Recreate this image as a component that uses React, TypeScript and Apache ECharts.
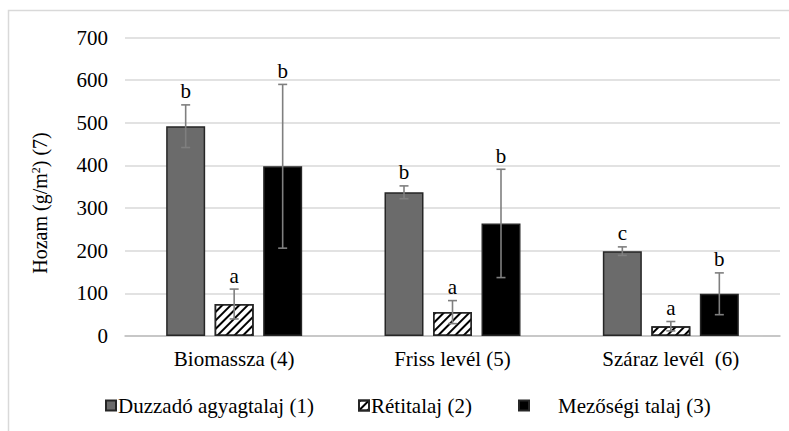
import React, { useEffect, useRef } from "react";
import * as echarts from "echarts";

const categories = ["Biomassza (4)", "Friss levél (5)", "Száraz levél  (6)"];
const seriesNames = ["Duzzadó agyagtalaj (1)", "Rétitalaj (2)", "Mezőségi talaj (3)"];
const duzzado = [492, 337, 199];
const duzzadoErr = [50, 15, 10];
const reti = [75, 56, 23];
const retiErr = [35, 27, 11];
const mezosegi = [398, 264, 99];
const mezosegiErr = [192, 127, 49];
const duzzadoLetters = ["b", "b", "c"];
const retiLetters = ["a", "a", "a"];
const mezosegiLetters = ["b", "b", "b"];
const yTicks = [0, 100, 200, 300, 400, 500, 600, 700];

const FONT = "Liberation Serif";
const BAR_W = 39;
const GAP = 9.5;

function errSeries(name: string, vals: number[], errs: number[], letters: string[], offset: number) {
  return {
    type: "custom",
    name: name + "_err",
    z: 5,
    data: vals.map((v, i) => [i, v, errs[i]]),
    encode: { x: 0, y: 1 },
    renderItem: (params: any, api: any) => {
      const i = api.value(0);
      const v = api.value(1);
      const e = api.value(2);
      const top = api.coord([i, v + e]);
      const bot = api.coord([i, Math.max(0, v - e)]);
      const x = top[0] + offset;
      const cap = 4.5;
      const st = { stroke: "#7f7f7f", lineWidth: 1.6 };
      return {
        type: "group",
        children: [
          { type: "line", shape: { x1: x, y1: top[1], x2: x, y2: bot[1] }, style: st },
          { type: "line", shape: { x1: x - cap, y1: top[1], x2: x + cap, y2: top[1] }, style: st },
          { type: "line", shape: { x1: x - cap, y1: bot[1], x2: x + cap, y2: bot[1] }, style: st },
          {
            type: "text",
            x: x,
            y: top[1] - 3,
            style: {
              text: letters[params.dataIndex],
              fontSize: 21,
              fontFamily: FONT,
              fill: "#000",
              align: "center",
              verticalAlign: "bottom",
            },
          },
        ],
      };
    },
  };
}

export default function App() {
  const ref = useRef<HTMLDivElement>(null);
  useEffect(() => {
    if (!ref.current) return;
    const chart = echarts.init(ref.current, null, { renderer: "svg" });
    const barBorder = { borderColor: "#262626", borderWidth: 1.5 };
    const legendText = (pad: number) => ({
      fontSize: 21,
      fontFamily: FONT,
      color: "#000",
      padding: [0, 0, 0, pad],
    });
    chart.setOption({
      animation: false,
      backgroundColor: "#fff",
      textStyle: { fontFamily: FONT },
      grid: { left: 125, right: 9, top: 37.5, bottom: 95, containLabel: false },
      legend: [
        {
          data: [seriesNames[0]],
          left: 100,
          top: 390,
          icon: "rect",
          itemWidth: 10,
          itemHeight: 10,
          textStyle: legendText(-3),
        },
        {
          data: [seriesNames[1]],
          left: 353,
          top: 390,
          icon: "rect",
          itemWidth: 10,
          itemHeight: 10,
          textStyle: legendText(-3),
        },
        {
          data: [seriesNames[2]],
          left: 513,
          top: 390,
          icon: "rect",
          itemWidth: 10,
          itemHeight: 10,
          textStyle: legendText(24),
        },
      ],
      xAxis: {
        type: "category",
        data: categories,
        axisTick: { show: false },
        axisLine: { lineStyle: { color: "#bfbfbf", width: 1.5 } },
        axisLabel: { fontSize: 21, fontFamily: FONT, color: "#000", margin: 12 },
      },
      yAxis: {
        type: "value",
        min: yTicks[0],
        max: yTicks[yTicks.length - 1],
        interval: 100,
        axisLine: { show: false },
        axisTick: { show: false },
        splitLine: { lineStyle: { color: "#d9d9d9", width: 1.5 } },
        axisLabel: { fontSize: 21, fontFamily: FONT, color: "#000", margin: 17 },
      },
      graphic: [
        {
          type: "rect",
          shape: { x: 8.5, y: 10.5, width: 900, height: 500 },
          style: { fill: "none", stroke: "#d9d9d9", lineWidth: 1.5 },
          silent: true,
          z: -10,
        },
        {
          type: "text",
          x: 40,
          y: 203,
          rotation: Math.PI / 2,
          style: {
            text: "Hozam (g/m{sup|2}) (7)",
            fontSize: 20,
            fontFamily: FONT,
            fill: "#000",
            align: "center",
            verticalAlign: "middle",
            rich: {
              sup: { fontSize: 12, fontFamily: FONT, verticalAlign: "top", padding: [0, 0, 8, 0] },
            },
          },
        },
      ],
      series: [
        {
          type: "bar",
          name: seriesNames[0],
          data: duzzado,
          barWidth: BAR_W,
          barGap: (GAP / BAR_W) * 100 + "%",
          itemStyle: { color: "#6b6b6b", ...barBorder },
        },
        {
          type: "bar",
          name: seriesNames[1],
          data: reti,
          barWidth: BAR_W,
          barGap: (GAP / BAR_W) * 100 + "%",
          itemStyle: {
            color: "#ffffff",
            ...barBorder,
            decal: {
              symbol: "rect",
              symbolSize: 1,
              dashArrayX: [1, 0],
              dashArrayY: [1.6, 3.4],
              rotation: -Math.PI / 4,
              color: "#000000",
              backgroundColor: "#ffffff",
            },
          },
        },
        {
          type: "bar",
          name: seriesNames[2],
          data: mezosegi,
          barWidth: BAR_W,
          barGap: (GAP / BAR_W) * 100 + "%",
          itemStyle: { color: "#000000", ...barBorder },
        },
        errSeries(seriesNames[0], duzzado, duzzadoErr, duzzadoLetters, -(BAR_W + GAP)),
        errSeries(seriesNames[1], reti, retiErr, retiLetters, 0),
        errSeries(seriesNames[2], mezosegi, mezosegiErr, mezosegiLetters, BAR_W + GAP),
      ],
    });
    return () => chart.dispose();
  }, []);
  return <div ref={ref} style={{ width: 789, height: 431, position: "absolute", left: 0, top: 0 }} />;
}
